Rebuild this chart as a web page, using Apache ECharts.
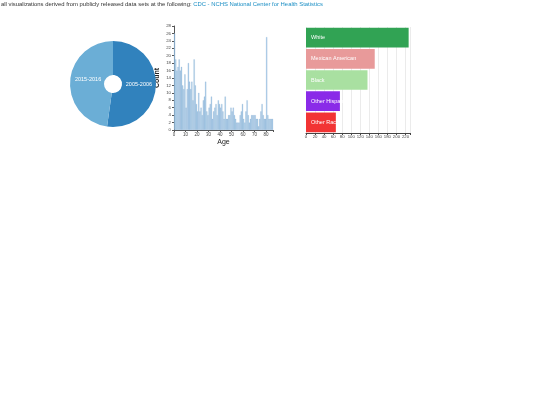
<!DOCTYPE html>
<html><head><meta charset="utf-8">
<script src="https://cdn.jsdelivr.net/npm/echarts@6/dist/echarts.min.js"></script>
<style>html,body{margin:0;padding:0;background:#fff}#c{width:540px;height:405px}</style>
</head><body><div id="c"></div>
<script>
const pieLabels = ['2005-2006', '2015-2016'];
const pieValues = [344, 315];
const pieColors = ['#3182bd', '#6baed6'];

const ages = [];
for (let a = 0; a <= 85; a++) ages.push(a);
const ageCounts = [26,19,16,17,19,16,17,12,11,15,
  6,11,18,13,11,13,8,19,12,7,
  5,10,5,6,4,8,9,13,5,4,
  6,7,9,3,5,6,7,4,8,7,
  6,7,5,3,9,3,3,4,4,6,
  5,6,4,3,2,2,2,4,5,7,
  3,2,5,8,4,2,3,4,4,4,
  4,3,3,1,3,5,7,4,3,3,
  25,4,3,3,3,3];
const histTicks = [0,10,20,30,40,50,60,70,80];

const races = ['White', 'Mexican American', 'Black', 'Other Hispanic', 'Other Race'];
const raceCounts = [227, 152, 136, 75, 66];
const raceColors = ['#31a354', '#e89a9a', '#a9e0a1', '#8a2be8', '#f23434'];

const chart = echarts.init(document.getElementById('c'));
const font = 'Liberation Sans, Arial, sans-serif';
const pieLabelOffsets = [[-3, -2], [4, -3]];
chart.setOption({
  animation: false,
  title: {
    left: 1, top: 0, padding: 0,
    text: '{a|all visualizations derived from publicly released data sets at the following: }{b|CDC - NCHS National Center for Health Statistics}',
    textStyle: { fontWeight: 'normal', rich: {
      a: { fontSize: 5.9, color: '#333', fontFamily: font, fontWeight: 'normal', lineHeight: 9 },
      b: { fontSize: 5.9, color: '#1a8ec4', fontFamily: font, fontWeight: 'normal', lineHeight: 9 }
    } }
  },
  grid: [
    { left: 174, right: 267, top: 26, bottom: 275 },
    { left: 306, right: 130, top: 27, bottom: 272 }
  ],
  xAxis: [
    { gridIndex: 0, type: 'value', min: 0, max: 86, interval: 10,
      splitLine: { show: false },
      axisLine: { lineStyle: { color: '#555', width: 1 } },
      axisTick: { show: true, length: 2, lineStyle: { color: '#555' } },
      axisLabel: { fontSize: 4.5, color: '#444', margin: 2, fontFamily: font,
        formatter: v => histTicks.includes(v) ? String(v) : '' },
      name: 'Age', nameLocation: 'middle', nameGap: 9,
      nameTextStyle: { fontSize: 7, color: '#222', fontFamily: font } },
    { gridIndex: 1, type: 'value', min: 0, max: 230, interval: 20,
      splitLine: { show: true, lineStyle: { color: '#ddd', width: 0.6 } },
      axisLine: { show: true, lineStyle: { color: '#444', width: 1 } },
      axisTick: { show: true, length: 2, lineStyle: { color: '#444' } },
      axisLabel: { fontSize: 4.3, color: '#444', margin: 2, fontFamily: font,
        formatter: v => v <= 220 ? String(v) : '' } }
  ],
  yAxis: [
    { gridIndex: 0, type: 'value', min: 0, max: 28, interval: 2,
      splitLine: { show: false },
      axisLine: { show: true, lineStyle: { color: '#555', width: 1 } },
      axisTick: { show: true, length: 2, lineStyle: { color: '#555' } },
      axisLabel: { fontSize: 4.3, color: '#444', margin: 3, fontFamily: font },
      name: 'Count', nameLocation: 'middle', nameGap: 13, nameRotate: 90,
      nameTextStyle: { fontSize: 7, color: '#222', fontFamily: font, fontWeight: 'bold' } },
    { gridIndex: 1, type: 'category', data: races, inverse: true,
      axisLine: { show: false }, axisTick: { show: false }, axisLabel: { show: false } }
  ],
  series: [
    { type: 'pie', center: [113, 84], radius: [9, 43], startAngle: 90, clockwise: true,
      data: pieLabels.map((n, i) => ({ name: n, value: pieValues[i], itemStyle: { color: pieColors[i] },
        label: { offset: pieLabelOffsets[i] } })),
      label: { show: true, position: 'inside', color: '#fff', fontSize: 5.5, fontFamily: font,
        formatter: '{b}' },
      labelLine: { show: false }, emphasis: { disabled: true } },
    { type: 'bar', xAxisIndex: 0, yAxisIndex: 0, barWidth: 1.2,
      data: ages.map((a, i) => [a + 0.5, ageCounts[i]]),
      itemStyle: { color: 'rgba(160,198,230,0.9)', borderColor: 'rgba(100,150,195,0.6)', borderWidth: 0.3 } },
    { type: 'bar', xAxisIndex: 1, yAxisIndex: 1, barCategoryGap: '7%',
      data: raceCounts.map((v, i) => ({ value: v, itemStyle: { color: raceColors[i] } })),
      label: { show: true, position: 'insideLeft', distance: 5, color: '#fff', fontSize: 5.5, fontFamily: font,
        formatter: '{b}' } }
  ]
});
</script></body></html>
